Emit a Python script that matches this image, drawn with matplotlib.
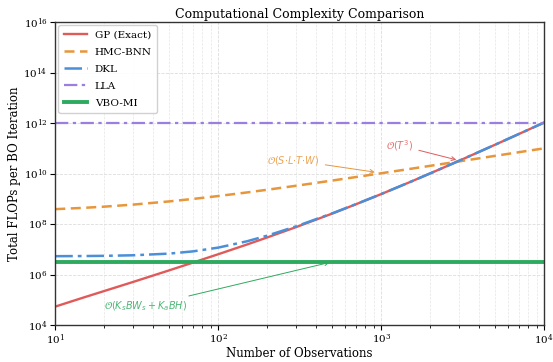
import matplotlib
matplotlib.use("Agg")
from matplotlib import pyplot as plt

plt.rcParams['font.family'] = 'DejaVu Serif'
plt.rcParams['mathtext.fontset'] = 'dejavusans'

# values
obs = [10, 15, 20, 30, 50, 70, 100, 150, 200, 300, 500, 700,
       1000, 1500, 2000, 3000, 5000, 7000, 10000]
gp_exact = [5.4e4, 1.25e5, 2.24e5, 5.1e5, 1.47e6, 2.99e6, 6.4e6, 1.55e7, 2.96e7, 7.56e7, 2.6e8, 6.1e8,
            1.54e9, 4.6e9, 1.02e10, 3.19e10, 1.39e11, 3.7e11, 1.05e12]
hmc_bnn = [3.9e8, 4.4e8, 4.9e8, 5.9e8, 7.9e8, 9.9e8, 1.29e9, 1.79e9, 2.29e9, 3.29e9, 5.29e9, 7.29e9,
           1.03e10, 1.53e10, 2.03e10, 3.03e10, 5.03e10, 7.03e10, 1.0e11]
dkl = [5.35e6, 5.43e6, 5.52e6, 5.81e6, 6.77e6, 8.3e6, 1.17e7, 2.08e7, 3.49e7, 8.1e7, 2.65e8, 6.15e8,
       1.545e9, 4.6e9, 1.02e10, 3.19e10, 1.39e11, 3.7e11, 1.05e12]
lla = [1e12] * len(obs)
vbo_mi = [3.2e6] * len(obs)

c_red = '#e05a5a'
c_orange = '#e8963a'
c_blue = '#4a8fd8'
c_purple = '#9b7fe0'
c_green = '#2eaa5e'

fig, ax = plt.subplots(figsize=(5.53, 3.62), dpi=100)

ax.plot(obs, gp_exact, color=c_red, lw=1.7, label='GP (Exact)')
ax.plot(obs, hmc_bnn, color=c_orange, lw=1.8, ls=(0, (4, 2.2)), label='HMC-BNN')
ax.plot(obs, dkl, color=c_blue, lw=1.8, ls=(0, (7, 2, 1.5, 2)), label='DKL')
ax.plot(obs, lla, color=c_purple, lw=1.6, ls=(0, (6, 2, 1.5, 2)), label='LLA')
ax.plot(obs, vbo_mi, color=c_green, lw=2.8, label='VBO-MI')

ax.set_xscale('log')
ax.set_yscale('log')
ax.set_xlim(10, 1e4)
ax.set_ylim(1e4, 1e16)
ax.set_yticks([1e4, 1e6, 1e8, 1e10, 1e12, 1e14, 1e16])
ax.yaxis.set_minor_locator(plt.NullLocator())

ax.grid(True, which='major', ls='--', color='#dddddd', lw=0.6)
ax.grid(True, which='minor', axis='x', ls='--', color='#e6e6e6', lw=0.5)
ax.tick_params(labelsize=7.5, pad=2)
for s in ax.spines.values():
    s.set_color('#333333')
    s.set_linewidth(1.0)

ax.set_title('Computational Complexity Comparison', fontsize=9, pad=3)
ax.set_xlabel('Number of Observations', fontsize=8.5, labelpad=0)
ax.set_ylabel('Total FLOPs per BO Iteration', fontsize=8.5, labelpad=2)

ax.annotate(r'$\mathcal{O}(T^3)$', xy=(3000, 3.3e10), xytext=(1300, 1.3e11),
            color=c_red, alpha=0.85, fontsize=7, ha='center', va='center',
            arrowprops=dict(arrowstyle='->', color=c_red, lw=0.7))
ax.annotate(r'$\mathcal{O}(S{\cdot}L{\cdot}T{\cdot}W)$', xy=(950, 1.1e10), xytext=(290, 3.4e10),
            color=c_orange, alpha=0.85, fontsize=7, ha='center', va='center',
            arrowprops=dict(arrowstyle='->', color=c_orange, lw=0.7))
ax.annotate(r'$\mathcal{O}(K_sBW_s + K_aBH)$', xy=(500, 3.2e6), xytext=(20, 5.6e4),
            color=c_green, alpha=0.85, fontsize=7, ha='left', va='center',
            arrowprops=dict(arrowstyle='->', color=c_green, lw=0.7))

ax.legend(loc='upper left', fontsize=7.5, framealpha=0.9, edgecolor='#cccccc',
          handlelength=2.2, handletextpad=0.8, borderpad=0.5, labelspacing=0.75,
          borderaxespad=0.3)

plt.subplots_adjust(left=0.1, right=0.984, top=0.939, bottom=0.102)
fig.savefig('out.png', dpi=100)
